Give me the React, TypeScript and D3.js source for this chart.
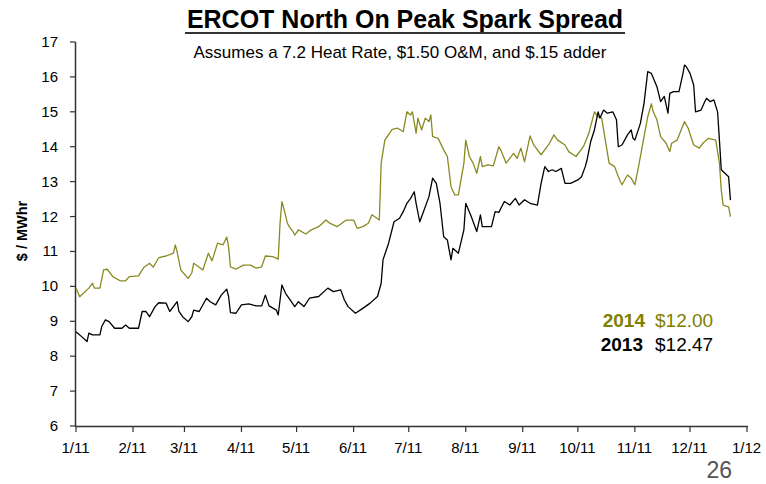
import React from 'react';
import * as d3 from 'd3';

// day offsets from the start of the axis (1/11) and $/MWhr values
const days2014 = [0, 2, 4, 7, 9, 10, 13, 15, 17, 20, 24, 27, 29, 34, 37, 40, 42, 45, 49, 53, 54, 55, 57, 61, 63, 64, 67, 69, 72, 74, 77, 80, 82, 83, 84, 87, 91, 95, 98, 101, 103, 107, 110, 111, 112, 113, 115, 116, 118, 119, 121, 125, 128, 132, 136, 138, 142, 147, 151, 153, 156, 159, 161, 165, 166, 168, 172, 175, 178, 180, 182, 183, 185, 186, 188, 190, 192, 193, 194, 197, 200, 202, 204, 206, 208, 211, 212, 214, 216, 218, 220, 221, 224, 227, 230, 231, 234, 238, 240, 242, 244, 247, 249, 253, 257, 260, 262, 266, 268, 272, 276, 279, 282, 284, 286, 287, 290, 293, 295, 297, 300, 302, 304, 306, 309, 311, 313, 314, 316, 318, 321, 323, 324, 327, 331, 333, 336, 339, 341, 344, 348, 350, 351, 352, 355, 356];
const vals2014 = [9.95, 9.7, 9.8, 9.95, 10.09, 9.95, 9.95, 10.47, 10.49, 10.28, 10.16, 10.16, 10.28, 10.3, 10.55, 10.66, 10.55, 10.82, 10.87, 10.95, 11.19, 10.99, 10.47, 10.23, 10.39, 10.66, 10.55, 10.47, 10.95, 10.73, 11.24, 11.19, 11.41, 11.14, 10.56, 10.49, 10.61, 10.61, 10.52, 10.56, 10.87, 10.85, 10.78, 11.81, 12.43, 12.24, 11.81, 11.71, 11.57, 11.47, 11.62, 11.5, 11.62, 11.71, 11.9, 11.81, 11.71, 11.9, 11.9, 11.66, 11.71, 11.81, 12.05, 11.9, 13.53, 14.19, 14.5, 14.53, 14.43, 15.0, 14.91, 15.0, 14.39, 14.82, 14.48, 14.82, 14.72, 14.91, 14.29, 14.24, 13.91, 13.72, 12.86, 12.62, 12.62, 13.53, 14.19, 13.72, 13.53, 13.24, 13.72, 13.43, 13.48, 13.45, 14.0, 13.91, 13.53, 13.81, 13.67, 13.96, 13.57, 14.31, 14.05, 13.77, 14.05, 14.34, 14.19, 14.05, 13.86, 13.72, 14.0, 14.39, 15.0, 14.86, 14.82, 14.48, 13.53, 13.43, 13.14, 12.91, 13.19, 13.1, 12.91, 13.43, 14.29, 14.86, 15.23, 15.0, 14.77, 14.29, 14.1, 13.86, 14.1, 14.19, 14.72, 14.53, 14.05, 13.96, 14.1, 14.24, 14.19, 13.53, 12.76, 12.33, 12.28, 12.0];

const days2013 = [0, 2, 6, 7, 9, 13, 14, 16, 18, 21, 25, 27, 29, 34, 36, 38, 40, 43, 45, 49, 51, 55, 56, 58, 61, 63, 64, 67, 71, 73, 76, 79, 82, 83, 84, 87, 90, 94, 98, 101, 103, 105, 109, 110, 112, 114, 119, 121, 124, 127, 132, 137, 140, 144, 146, 148, 152, 156, 160, 164, 166, 167, 170, 173, 176, 178, 180, 182, 184, 185, 187, 189, 192, 194, 196, 198, 200, 202, 203, 204, 205, 208, 211, 212, 215, 218, 220, 221, 226, 228, 230, 233, 236, 239, 241, 244, 247, 251, 253, 255, 257, 259, 261, 264, 266, 269, 273, 275, 277, 278, 280, 282, 284, 285, 287, 289, 292, 294, 295, 297, 300, 302, 303, 304, 307, 309, 311, 313, 316, 318, 320, 322, 323, 325, 328, 330, 331, 332, 334, 336, 337, 340, 342, 343, 345, 347, 349, 350, 351, 353, 355, 356];
const vals2013 = [8.7, 8.61, 8.42, 8.66, 8.61, 8.61, 8.85, 9.04, 8.99, 8.8, 8.8, 8.89, 8.8, 8.8, 9.28, 9.28, 9.13, 9.42, 9.53, 9.52, 9.28, 9.56, 9.28, 9.13, 8.99, 9.13, 9.32, 9.28, 9.66, 9.56, 9.47, 9.75, 9.92, 9.71, 9.25, 9.23, 9.47, 9.5, 9.44, 9.44, 9.75, 9.44, 9.32, 9.18, 10.04, 9.8, 9.42, 9.56, 9.42, 9.66, 9.71, 9.95, 9.85, 9.9, 9.61, 9.42, 9.23, 9.37, 9.52, 9.71, 10.09, 10.76, 11.23, 11.85, 11.95, 12.14, 12.38, 12.52, 12.71, 12.38, 11.85, 12.14, 12.57, 13.1, 12.95, 12.38, 11.42, 11.33, 11.04, 10.76, 11.09, 10.95, 11.62, 12.38, 12.0, 11.57, 12.05, 11.71, 11.71, 12.14, 12.12, 12.43, 12.33, 12.52, 12.33, 12.48, 12.38, 12.33, 12.95, 13.43, 13.29, 13.34, 13.29, 13.38, 12.95, 12.95, 13.05, 13.14, 13.43, 13.62, 14.15, 14.48, 15.0, 14.82, 15.05, 14.96, 15.0, 14.77, 14.0, 14.05, 14.34, 14.48, 14.24, 14.19, 14.67, 15.25, 16.15, 16.1, 15.72, 15.29, 15.44, 14.96, 15.53, 15.58, 15.58, 16.06, 16.34, 16.29, 16.1, 15.77, 15.0, 15.05, 15.29, 15.39, 15.29, 15.34, 15.0, 14.19, 13.34, 13.24, 13.14, 12.47];

const xTickLabels = ['1/11', '2/11', '3/11', '4/11', '5/11', '6/11', '7/11', '8/11', '9/11', '10/11', '11/11', '12/11', '1/12'];
const yTicks = [6, 7, 8, 9, 10, 11, 12, 13, 14, 15, 16, 17];

const OLIVE = '#8a8a22';
const OLIVE_TEXT = '#808000';
const AXIS = '#333';

const start = new Date(2011, 0, 1);
const end = new Date(2012, 0, 1);
const toDate = (d: number) => new Date(2011, 0, 1 + d);

const App: React.FC = () => {
  const x = d3.scaleTime().domain([start, end]).range([76, 747]);
  const y = d3.scaleLinear().domain([6, 17]).range([426, 42]);

  const months = d3.timeMonth.range(start, d3.timeDay.offset(end, 1));

  const line = d3.line<[number, number]>()
    .x((d) => x(toDate(d[0])))
    .y((d) => y(d[1]));

  const s2014 = days2014.map((d, i) => [d, vals2014[i]] as [number, number]);
  const s2013 = days2013.map((d, i) => [d, vals2013[i]] as [number, number]);

  const font = '"Liberation Sans", Arial, sans-serif';
  const narrow = '"Liberation Sans Narrow", "Arial Narrow", "Liberation Sans", sans-serif';

  return (
    <svg width={766} height={484} style={{ position: 'absolute', left: 0, top: 0, background: '#fff' }}>
      {/* title */}
      <text x={405} y={28} textAnchor="middle" fontFamily={font} fontWeight="bold" fontSize={25} fill="#000">
        ERCOT North On Peak Spark Spread
      </text>
      <line x1={185} x2={625} y1={33} y2={33} stroke="#333" strokeWidth={2} />
      <text x={400} y={58} textAnchor="middle" fontFamily={font} fontSize={17} fill="#000">
        Assumes a 7.2 Heat Rate, $1.50 O&amp;M, and $.15 adder
      </text>

      {/* y axis */}
      <line x1={75.5} x2={75.5} y1={y(17)} y2={y(6)} stroke={AXIS} strokeWidth={1.5} />
      {yTicks.map((t) => (
        <g key={t}>
          <line x1={70} x2={75.5} y1={y(t)} y2={y(t)} stroke={AXIS} strokeWidth={1.2} />
          <text x={58} y={y(t) + 5} textAnchor="end" fontFamily={font} fontSize={15} fill="#000">{t}</text>
        </g>
      ))}
      <text transform="translate(27,231) rotate(-90)" textAnchor="middle" fontFamily={narrow} fontWeight="bold" fontSize={14.5} fill="#000">
        $ / MWhr
      </text>

      {/* x axis */}
      <line x1={75} x2={748} y1={426.5} y2={426.5} stroke={AXIS} strokeWidth={1.5} />
      {months.map((m, i) => (
        <g key={i}>
          <line x1={x(m)} x2={x(m)} y1={426.5} y2={432} stroke={AXIS} strokeWidth={1.2} />
          <text x={x(m) - 0.5} y={453} textAnchor="middle" fontFamily={font} fontSize={15} fill="#000">
            {xTickLabels[i]}
          </text>
        </g>
      ))}

      {/* series */}
      <path d={line(s2014) || ''} fill="none" stroke={OLIVE} strokeWidth={1.3} strokeLinejoin="round" />
      <path d={line(s2013) || ''} fill="none" stroke="#000" strokeWidth={1.3} strokeLinejoin="round" />

      {/* legend */}
      <text x={645} y={327} textAnchor="end" fontFamily={font} fontWeight="bold" fontSize={19} fill={OLIVE_TEXT}>2014</text>
      <text x={655} y={327} fontFamily={font} fontSize={19} fill={OLIVE_TEXT}>$12.00</text>
      <text x={643} y={351} textAnchor="end" fontFamily={font} fontWeight="bold" fontSize={19} fill="#000">2013</text>
      <text x={655} y={351} fontFamily={font} fontSize={19} fill="#000">$12.47</text>

      <text x={732} y={478} textAnchor="end" fontFamily={font} fontSize={23} fill="#555">26</text>
    </svg>
  );
};

export default App;
